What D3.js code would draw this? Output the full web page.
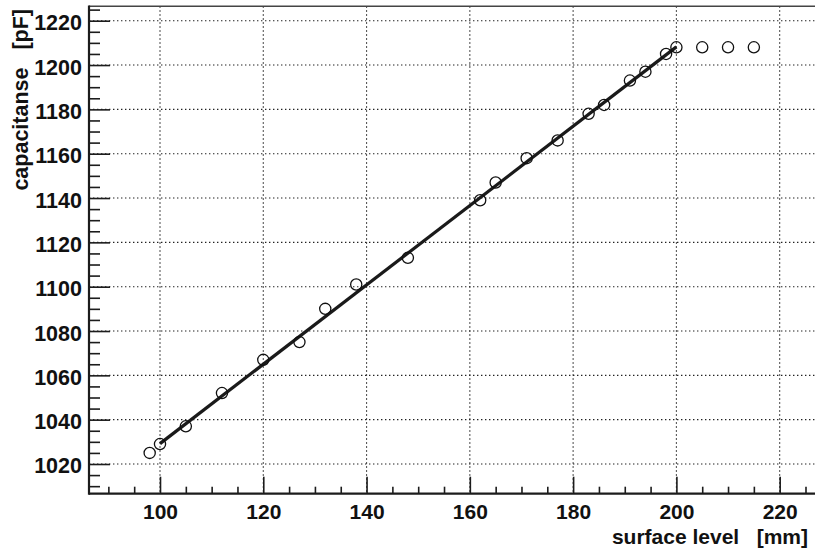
<!DOCTYPE html>
<html>
<head>
<meta charset="utf-8">
<script src="https://cdn.jsdelivr.net/npm/d3@7"></script>
<style>
  html, body { margin: 0; padding: 0; background: #fff; }
  svg { display: block; }
  text { font-family: "Liberation Sans", Arial, Helvetica, sans-serif; font-weight: bold; fill: #111; }
</style>
</head>
<body>
<svg id="chart" width="815" height="551"></svg>
<script>
// Measured capacitance versus surface level
const levelMm = [98, 100, 105, 112, 120, 127, 132, 138, 148, 162, 165, 171, 177, 183, 186, 191, 194, 198, 200, 205, 210, 215];
const capacitancePf = [1025, 1029, 1037, 1052, 1067, 1075, 1090, 1101, 1113, 1139, 1147, 1158, 1166, 1178, 1182, 1193, 1197, 1205, 1208, 1208, 1208, 1208];

// Linear fit end points
const fitLevel = [100, 200];
const fitCapacitance = [1029.2, 1208.2];

// Axis tick values and labels
const xMajorTicks = [100, 120, 140, 160, 180, 200, 220];
const xMinorTicks = [90, 95, 105, 110, 115, 125, 130, 135, 145, 150, 155, 165, 170, 175, 185, 190, 195, 205, 210, 215, 225];
const yMajorTicks = [1020, 1040, 1060, 1080, 1100, 1120, 1140, 1160, 1180, 1200, 1220];
const yMinorTicks = [1010, 1015, 1025, 1030, 1035, 1045, 1050, 1055, 1065, 1070, 1075, 1085, 1090, 1095,
  1105, 1110, 1115, 1125, 1130, 1135, 1145, 1150, 1155, 1165, 1170, 1175, 1185, 1190, 1195, 1205, 1210, 1215, 1225];
const xTitle = "surface level   [mm]";
const yTitle = "capacitanse   [pF]";

const svg = d3.select("#chart");
const frame = { left: 89, right: 815, top: 6.3, bottom: 493.7 };

const x = d3.scaleLinear().domain([86.25, 226.84]).range([frame.left, frame.right]);
const y = d3.scaleLinear().domain([1006.6, 1226.5]).range([frame.bottom, frame.top]);

const ink = "#1c1c1c";

// dotted grid at major ticks
const grid = svg.append("g")
  .attr("stroke", "#222").attr("stroke-width", 1.1).attr("stroke-dasharray", "1.4 2.6");
grid.selectAll("line.gx").data(xMajorTicks).join("line")
  .attr("class", "gx")
  .attr("x1", d => x(d)).attr("x2", d => x(d))
  .attr("y1", frame.top).attr("y2", frame.bottom);
grid.selectAll("line.gy").data(yMajorTicks).join("line")
  .attr("class", "gy")
  .attr("x1", frame.left).attr("x2", frame.right)
  .attr("y1", d => y(d)).attr("y2", d => y(d));

// frame top edge
svg.append("line")
  .attr("x1", frame.left).attr("x2", frame.right + 2)
  .attr("y1", frame.top).attr("y2", frame.top)
  .attr("stroke", "#444").attr("stroke-width", 1.6);

// x axis (ticks pointing up into the plot)
const xAxis = d3.axisBottom(x).tickValues(xMajorTicks).tickSize(-17).tickPadding(0).tickFormat(d3.format("d"));
const gx = svg.append("g").attr("transform", `translate(0,${frame.bottom})`).call(xAxis);
gx.select(".domain").remove();
gx.selectAll(".tick line").attr("stroke", ink).attr("stroke-width", 1.6);
gx.selectAll(".tick text")
  .attr("y", 25.8).attr("dy", null)
  .attr("font-size", 21).attr("fill", "#111")
  .style("font-family", "'Liberation Sans', Arial, sans-serif").style("font-weight", "bold");
const xMinor = d3.axisBottom(x).tickValues(xMinorTicks).tickSize(-7).tickFormat("");
const gxm = svg.append("g").attr("transform", `translate(0,${frame.bottom})`).call(xMinor);
gxm.select(".domain").remove();
gxm.selectAll(".tick line").attr("stroke", ink).attr("stroke-width", 1.6);

// y axis (ticks pointing right into the plot)
const yAxis = d3.axisLeft(y).tickValues(yMajorTicks).tickSize(-21).tickPadding(0).tickFormat(d3.format("d"));
const gy = svg.append("g").attr("transform", `translate(${frame.left},0)`).call(yAxis);
gy.select(".domain").remove();
gy.selectAll(".tick line").attr("stroke", ink).attr("stroke-width", 1.6);
gy.selectAll(".tick text")
  .attr("x", -7).attr("dy", 9).attr("y", 0)
  .attr("font-size", 21.5).attr("fill", "#111")
  .style("font-family", "'Liberation Sans', Arial, sans-serif").style("font-weight", "bold");
const yMinor = d3.axisLeft(y).tickValues(yMinorTicks).tickSize(-11).tickFormat("");
const gym = svg.append("g").attr("transform", `translate(${frame.left},0)`).call(yMinor);
gym.select(".domain").remove();
gym.selectAll(".tick line").attr("stroke", ink).attr("stroke-width", 1.6);

// axis lines
svg.append("line")
  .attr("x1", frame.left).attr("x2", frame.right + 2)
  .attr("y1", frame.bottom).attr("y2", frame.bottom)
  .attr("stroke", ink).attr("stroke-width", 2.2);
svg.append("line")
  .attr("x1", frame.left).attr("x2", frame.left)
  .attr("y1", frame.top - 0.8).attr("y2", frame.bottom + 1.1)
  .attr("stroke", ink).attr("stroke-width", 2.2);

// linear fit
const fitLine = d3.line().x(d => x(d[0])).y(d => y(d[1]));
svg.append("path")
  .datum(d3.zip(fitLevel, fitCapacitance))
  .attr("d", fitLine)
  .attr("fill", "none").attr("stroke", "#1a1a1a").attr("stroke-width", 3.2);

// measured points
svg.append("g").selectAll("circle")
  .data(d3.zip(levelMm, capacitancePf)).join("circle")
  .attr("cx", d => x(d[0])).attr("cy", d => y(d[1])).attr("r", 5.6)
  .attr("fill", "none").attr("stroke", "#111").attr("stroke-width", 1.3);

// axis titles
svg.append("text")
  .attr("x", 808).attr("y", 543.5)
  .attr("text-anchor", "end").attr("font-size", 21)
  .style("white-space", "pre")
  .text(xTitle);
svg.append("text")
  .attr("transform", "translate(28,9) rotate(-90)")
  .attr("text-anchor", "end").attr("font-size", 21.5)
  .style("white-space", "pre")
  .text(yTitle);
</script>
</body>
</html>
